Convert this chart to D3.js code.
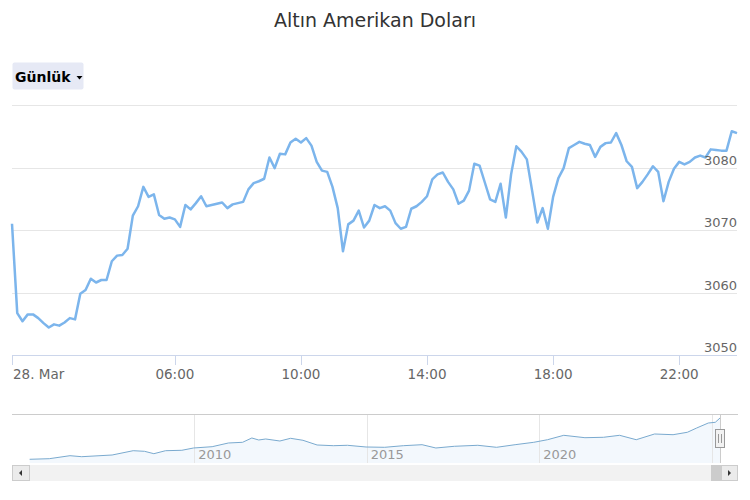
<!DOCTYPE html>
<html>
<head>
<meta charset="utf-8">
<script src="https://cdn.jsdelivr.net/npm/d3@7"></script>
<style>
body { margin: 0; background: #fff; }
svg text { font-family: "DejaVu Sans", sans-serif; }
</style>
</head>
<body>
<div id="chart"></div>
<script>
// gold price (USD), 28 Mar, one point every 10 minutes
let values = [3071.0,3056.7,3055.4,3056.5,3056.5,3055.9,3055.1,3054.4,3054.9,3054.7,
	3055.2,3055.9,3055.7,3059.8,3060.4,3062.2,3061.6,3062.0,3062.0,3065.0,
	3065.9,3066.0,3067.0,3072.3,3073.8,3076.9,3075.3,3075.7,3072.4,3071.8,
	3072.0,3071.7,3070.5,3074.0,3073.3,3074.3,3075.4,3073.8,3074.0,3074.2,
	3074.4,3073.5,3074.1,3074.3,3074.5,3076.5,3077.5,3077.8,3078.2,3081.6,
	3079.9,3082.2,3082.1,3084.0,3084.6,3084.0,3084.7,3083.5,3080.9,3079.5,
	3079.3,3076.9,3073.5,3066.6,3070.9,3071.5,3073.1,3070.4,3071.5,3074.0,
	3073.5,3073.8,3073.1,3071.1,3070.2,3070.5,3073.4,3073.8,3074.5,3075.4,
	3078.1,3078.9,3079.2,3077.7,3076.5,3074.2,3074.7,3076.3,3080.6,3080.3,
	3077.6,3074.9,3074.5,3077.4,3072.0,3078.9,3083.4,3082.5,3081.3,3076.3,
	3071.2,3073.5,3070.2,3075.3,3078.3,3079.9,3083.1,3083.6,3084.1,3083.8,
	3083.6,3081.7,3083.3,3083.9,3084.0,3085.5,3083.6,3081.0,3080.1,3076.7,
	3077.7,3078.9,3080.2,3079.3,3074.6,3077.7,3079.8,3080.9,3080.5,3080.9,
	3081.6,3081.9,3081.6,3082.9,3082.8,3082.7,3082.7,3085.8,3085.5];
let startTime = '2025-03-28T00:50';
let stepMinutes = 10;

let xTickTimes = ['2025-03-28T00:50','2025-03-28T06:00','2025-03-28T10:00','2025-03-28T14:00','2025-03-28T18:00','2025-03-28T22:00'];
let xTickLabels = ['28. Mar','06:00','10:00','14:00','18:00','22:00'];
let yTicks = [3050,3060,3070,3080,3090];
let yTickLabels = ['3050','3060','3070','3080',''];

// navigator: long history
let navDates = ['2005-03-25','2005-10-19','2006-05-26','2006-09-27','2007-08-15','2008-03-25','2008-07-23','2008-10-30',
	'2009-03-03','2009-08-22','2009-12-24','2010-07-09','2010-12-28','2011-05-27','2011-09-02','2011-11-14',
	'2012-01-27','2012-06-25','2012-10-16','2013-02-24','2013-07-24','2014-01-12','2014-06-10','2014-12-24',
	'2015-07-09','2016-01-23','2016-08-08','2017-01-01','2017-07-16','2018-03-21','2018-10-05','2019-04-20',
	'2019-11-03','2020-03-28','2020-09-16','2021-04-28','2021-11-10','2022-04-30','2022-10-23','2023-05-05',
	'2023-11-17','2024-04-16','2024-07-24','2024-11-24','2025-02-06','2025-03-28'];
let navValues = [430,469,663,598,708,987,948,793,
	987,1013,1162,1246,1486,1531,1810,1680,
	1745,1615,1790,1661,1356,1311,1337,1227,
	1207,1311,1376,1162,1272,1337,1207,1376,
	1531,1699,1984,1829,1855,1984,1699,2069,
	2023,2179,2457,2781,2826,3105];
let navYears = ['2010','2015','2020','2025'];
let navYearLabels = ['2010','2015','2020',''];

let width = 750, height = 500;
let plot = {left: 12, right: 737, top: 105, bottom: 355};
let nav = {left: 12, right: 738, top: 414, bottom: 463};

let parseT = d3.timeParse('%Y-%m-%dT%H:%M');
let parseD = d3.timeParse('%Y-%m-%d');
let t0 = parseT(startTime);
let times = values.map((d, i) => d3.timeMinute.offset(t0, i * stepMinutes));

let xScale = d3.scaleTime()
	.domain([times[0], times[times.length - 1]])
	.range([plot.left, plot.right]);
let yScale = d3.scaleLinear()
	.domain([3050, 3090])
	.range([plot.bottom, plot.top]);

let navX = d3.scaleTime()
	.domain([parseD('2010-01-01'), parseD('2020-01-01')])
	.range([194.3, 539.3]);
let navY = d3.scaleLinear()
	.domain([190, 3364])
	.range([nav.bottom, nav.top]);

let svg = d3.select('#chart').append('svg')
	.attr('width', width)
	.attr('height', height);

// title
svg.append('text')
	.attr('x', 375).attr('y', 27)
	.attr('text-anchor', 'middle')
	.style('font-size', '19px')
	.style('fill', '#333')
	.text('Altın Amerikan Doları');

// range button
let btn = svg.append('g');
btn.append('rect')
	.attr('x', 12.5).attr('y', 62.5)
	.attr('width', 71).attr('height', 27)
	.attr('rx', 2)
	.style('fill', '#e6e9f5');
btn.append('text')
	.attr('x', 15).attr('y', 82)
	.style('font-size', '14px')
	.style('font-weight', 'bold')
	.style('fill', '#000')
	.text('Günlük');
btn.append('path')
	.attr('d', 'M76.5,76 L82.5,76 L79.5,79.5 Z')
	.style('fill', '#000');

// grid
svg.append('g').selectAll('line')
	.data(yTicks)
	.enter().append('line')
	.attr('x1', plot.left).attr('x2', plot.right)
	.attr('y1', d => Math.round(yScale(d)) + 0.5)
	.attr('y2', d => Math.round(yScale(d)) + 0.5)
	.style('stroke', '#e6e6e6');

// x axis
svg.append('line')
	.attr('x1', plot.left).attr('x2', plot.right)
	.attr('y1', plot.bottom + 0.5).attr('y2', plot.bottom + 0.5)
	.style('stroke', '#ccd6eb');

let xt = svg.append('g').selectAll('g')
	.data(xTickTimes)
	.enter().append('g');
xt.append('line')
	.attr('x1', d => Math.round(xScale(parseT(d))) + 0.5)
	.attr('x2', d => Math.round(xScale(parseT(d))) + 0.5)
	.attr('y1', plot.bottom).attr('y2', plot.bottom + 10)
	.style('stroke', '#ccd6eb');
xt.append('text')
	.attr('x', (d, i) => i == 0 ? xScale(parseT(d)) + 1 : xScale(parseT(d)))
	.attr('y', 379)
	.attr('text-anchor', (d, i) => i == 0 ? 'start' : 'middle')
	.style('font-size', '13.5px')
	.style('fill', '#666')
	.text((d, i) => xTickLabels[i]);

// series
let line = d3.line()
	.x((d, i) => xScale(times[i]))
	.y(d => yScale(d));
svg.append('path')
	.datum(values)
	.attr('d', line)
	.style('fill', 'none')
	.style('stroke', '#7cb5ec')
	.style('stroke-width', 2.5)
	.style('stroke-linejoin', 'round');

// y labels
svg.append('g').selectAll('text')
	.data(yTicks)
	.enter().append('text')
	.attr('x', plot.right)
	.attr('y', d => yScale(d) - 3)
	.attr('text-anchor', 'end')
	.style('font-size', '13px')
	.style('fill', '#666')
	.text((d, i) => yTickLabels[i]);

// navigator
svg.append('clipPath').attr('id', 'navclip')
	.append('rect')
	.attr('x', nav.left).attr('y', nav.top)
	.attr('width', nav.right - nav.left).attr('height', nav.bottom - nav.top);

let navG = svg.append('g').attr('clip-path', 'url(#navclip)');
let navPts = navDates.map((d, i) => [parseD(d), navValues[i]]);

navG.append('path')
	.datum(navPts)
	.attr('d', d3.area()
		.x(d => navX(d[0]))
		.y0(nav.bottom)
		.y1(d => navY(d[1])))
	.style('fill', '#f3f8fd');

navG.selectAll('line.ng')
	.data(navYears)
	.enter().append('line')
	.attr('class', 'ng')
	.attr('x1', d => Math.round(navX(parseD(d + '-01-01'))) + 0.5)
	.attr('x2', d => Math.round(navX(parseD(d + '-01-01'))) + 0.5)
	.attr('y1', nav.top).attr('y2', nav.bottom)
	.style('stroke', '#e6e6e6');

navG.append('path')
	.datum(navPts)
	.attr('d', d3.line()
		.x(d => navX(d[0]))
		.y(d => navY(d[1])))
	.style('fill', 'none')
	.style('stroke', '#7aaacf')
	.style('stroke-width', 1);

navG.selectAll('text')
	.data(navYears)
	.enter().append('text')
	.attr('x', d => navX(parseD(d + '-01-01')) + 4)
	.attr('y', 459)
	.style('font-size', '13px')
	.style('fill', '#999')
	.text((d, i) => navYearLabels[i]);

// navigator outline
svg.append('line')
	.attr('x1', nav.left).attr('x2', nav.right)
	.attr('y1', nav.top + 0.5).attr('y2', nav.top + 0.5)
	.style('stroke', '#cccccc');

// handle
let hx = navX(parseD('2025-03-28'));
svg.append('line')
	.attr('x1', Math.round(hx) + 0.5).attr('x2', Math.round(hx) + 0.5)
	.attr('y1', nav.top).attr('y2', nav.bottom)
	.style('stroke', '#cccccc');
svg.append('rect')
	.attr('x', Math.round(hx) - 4.5).attr('y', 429.5)
	.attr('width', 9).attr('height', 18)
	.style('fill', '#f2f2f2')
	.style('stroke', '#999');
[-1.5, 1.5].forEach(o => {
	svg.append('line')
		.attr('x1', Math.round(hx) + o).attr('x2', Math.round(hx) + o)
		.attr('y1', 434).attr('y2', 443)
		.style('stroke', '#999');
});

// scrollbar
let sb = {top: 465, h: 16};
svg.append('rect')
	.attr('x', nav.left).attr('y', sb.top)
	.attr('width', nav.right - nav.left).attr('height', sb.h)
	.style('fill', '#f2f2f2');
svg.append('rect')
	.attr('x', 711).attr('y', sb.top)
	.attr('width', 10).attr('height', sb.h)
	.style('fill', '#cccccc');
svg.append('rect')
	.attr('x', 12.5).attr('y', sb.top + 0.5)
	.attr('width', 17).attr('height', sb.h - 1)
	.style('fill', '#ebebeb')
	.style('stroke', '#cccccc');
svg.append('rect')
	.attr('x', 721.5).attr('y', sb.top + 0.5)
	.attr('width', 16).attr('height', sb.h - 1)
	.style('fill', '#ebebeb')
	.style('stroke', '#cccccc');
svg.append('path')
	.attr('d', 'M19,473 L22,470 L22,476 Z')
	.style('fill', '#333');
svg.append('path')
	.attr('d', 'M731,473 L728,470 L728,476 Z')
	.style('fill', '#333');
</script>
</body>
</html>
